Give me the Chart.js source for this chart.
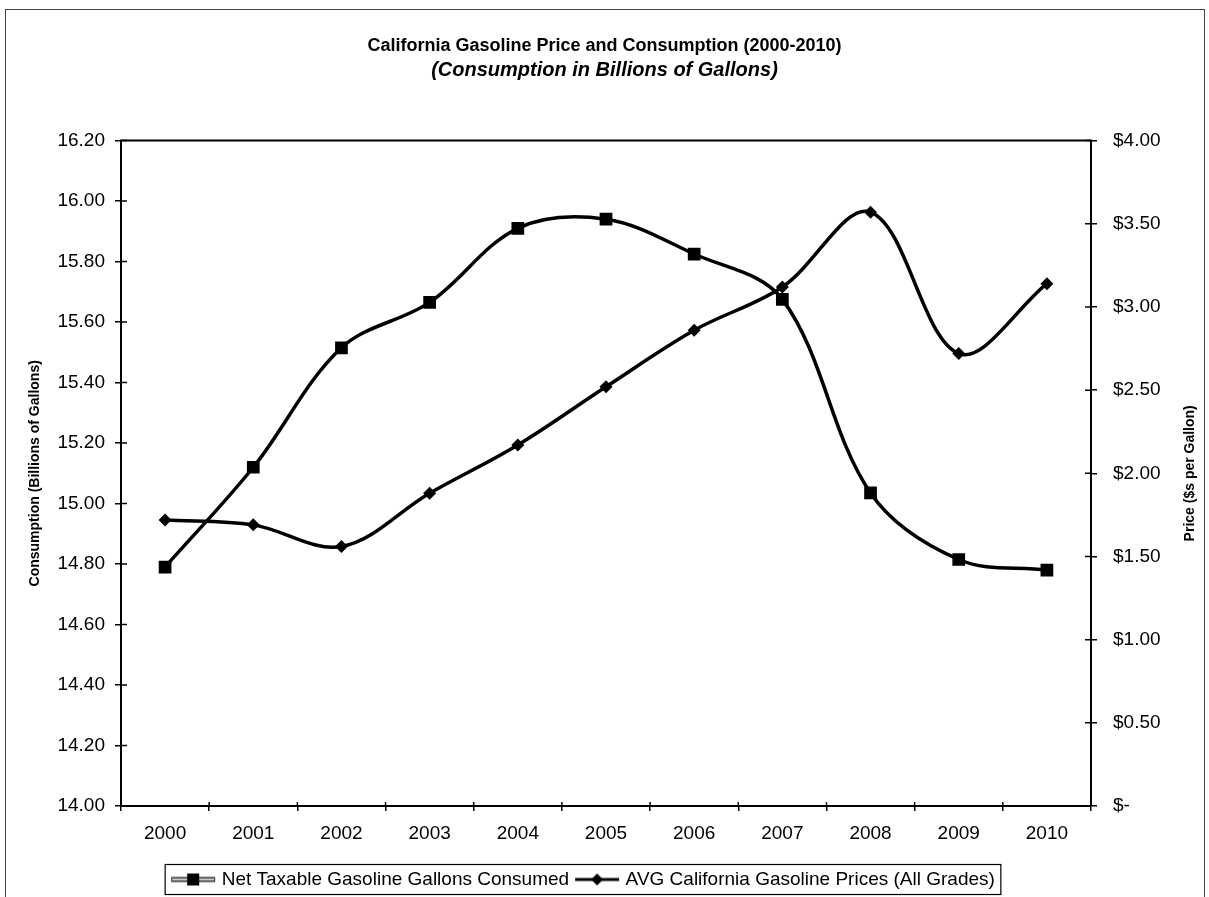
<!DOCTYPE html>
<html>
<head>
<meta charset="utf-8">
<title>California Gasoline Price and Consumption (2000-2010)</title>
<script src="https://cdn.jsdelivr.net/npm/chart.js@4.4.1/dist/chart.umd.min.js"></script>
<style>
  html, body { margin: 0; padding: 0; background: #fff; }
  #wrap { position: relative; width: 1209px; height: 897px; overflow: hidden; }
  #frame { position: absolute; left: 5px; top: 9px; width: 1198px; height: 900px; border: 1px solid #444; border-bottom: none; }
  #wrap canvas { position: absolute; left: 0; top: 0; }
</style>
</head>
<body>
<div id="wrap">
  <div id="frame"></div>
  <canvas id="gasChart" width="1209" height="897"></canvas>
</div>
<script>
const FONT = "'Liberation Sans', Arial, sans-serif";

const years = ['2000', '2001', '2002', '2003', '2004', '2005', '2006', '2007', '2008', '2009', '2010'];
// billions of gallons
const consumption = [14.79, 15.12, 15.515, 15.665, 15.91, 15.94, 15.825, 15.675, 15.035, 14.815, 14.78];
// $ per gallon, all grades
const price = [1.72, 1.69, 1.56, 1.88, 2.17, 2.52, 2.86, 3.12, 3.57, 2.72, 3.14];

const consumptionAxis = { min: 14, max: 16.2, step: 0.2 };
const priceAxis = { min: 0, max: 4, step: 0.5 };

const seriesNames = ['Net Taxable Gasoline Gallons Consumed', 'AVG California Gasoline Prices (All Grades)'];

Chart.defaults.color = '#000';
Chart.defaults.font.family = FONT;

// little line + marker pictures for the legend
function legendSymbol(kind) {
    const c = document.createElement('canvas');
    c.width = 46; c.height = 16;
    const g = c.getContext('2d');
    if (kind === 'square') {
        g.strokeStyle = '#333'; g.lineWidth = 5;
        g.beginPath(); g.moveTo(1, 8); g.lineTo(45, 8); g.stroke();
        g.strokeStyle = '#fff'; g.lineWidth = 1.5;
        g.beginPath(); g.moveTo(2, 8); g.lineTo(44, 8); g.stroke();
        g.fillStyle = '#000';
        g.fillRect(17, 2, 12, 12);
    } else {
        g.strokeStyle = '#000'; g.lineWidth = 3;
        g.beginPath(); g.moveTo(1, 8); g.lineTo(45, 8); g.stroke();
        g.fillStyle = '#000';
        g.beginPath(); g.moveTo(23, 2); g.lineTo(29, 8); g.lineTo(23, 14); g.lineTo(17, 8); g.closePath(); g.fill();
    }
    return c;
}
const legendIcons = [legendSymbol('square'), legendSymbol('diamond')];

const extras = {
    id: 'extras',
    afterLayout(chart) {
        // legend sits a little left of centre
        chart.legend.left -= 20;
        chart.legend.right -= 20;
    },
    afterDraw(chart) {
        const { ctx, chartArea: a, scales } = chart;
        ctx.save();
        ctx.strokeStyle = '#000';
        ctx.lineWidth = 2;
        ctx.beginPath();
        ctx.moveTo(a.left - 1, a.top);
        ctx.lineTo(a.right + 1, a.top);
        ctx.stroke();

        // tick marks on the inside of the axes
        ctx.lineWidth = 1.5;
        ctx.beginPath();
        scales.y.ticks.forEach((t, i) => {
            const y = scales.y.getPixelForTick(i);
            ctx.moveTo(a.left, y); ctx.lineTo(a.left + 6, y);
        });
        scales.y1.ticks.forEach((t, i) => {
            const y = scales.y1.getPixelForTick(i);
            ctx.moveTo(a.right - 6, y); ctx.lineTo(a.right, y);
        });
        for (let i = 0; i <= years.length; i++) {
            const x = scales.x.getPixelForValue(i - 0.5);
            ctx.moveTo(x, a.bottom - 4); ctx.lineTo(x, a.bottom);
        }
        ctx.stroke();

        // right axis title, reading upwards
        ctx.save();
        ctx.font = 'bold 14px ' + FONT;
        ctx.fillStyle = '#000';
        ctx.textAlign = 'center';
        ctx.textBaseline = 'middle';
        ctx.translate(1190, (a.top + a.bottom) / 2);
        ctx.rotate(-Math.PI / 2);
        ctx.fillText('Price ($s per Gallon)', 0, 0);
        ctx.restore();

        // box round the legend
        const hb = chart.legend.legendHitBoxes;
        if (hb && hb.length) {
            const first = hb[0], last = hb[hb.length - 1];
            const cy = first.top + first.height / 2;
            ctx.lineWidth = 1.2;
            ctx.strokeRect(first.left - 9, cy - 15, last.left + last.width + 6 - (first.left - 9), 30);
        }
        ctx.restore();
    }
};

const chart = new Chart(document.getElementById('gasChart'), {
    type: 'line',
    data: {
        labels: years,
        datasets: [
            {
                label: seriesNames[0],
                data: consumption,
                yAxisID: 'y',
                borderColor: '#000',
                backgroundColor: '#000',
                borderWidth: 3.5,
                tension: 0.35,
                pointStyle: 'rect',
                pointRadius: 9,
                pointBorderWidth: 0
            },
            {
                label: seriesNames[1],
                data: price,
                yAxisID: 'y1',
                borderColor: '#000',
                backgroundColor: '#000',
                borderWidth: 3.5,
                tension: 0.35,
                pointStyle: 'rectRot',
                pointRadius: 6.5,
                pointBorderWidth: 0
            }
        ]
    },
    options: {
        responsive: false,
        animation: false,
        devicePixelRatio: 1,
        layout: { padding: 0 },
        plugins: {
            title: {
                display: true,
                text: 'California Gasoline Price and Consumption (2000-2010)',
                font: { size: 18, weight: 'bold' },
                padding: { top: 35, bottom: 0 }
            },
            subtitle: {
                display: true,
                text: '(Consumption in Billions of Gallons)',
                color: '#000',
                font: { size: 20, weight: 'bold', style: 'italic' },
                padding: { top: 2, bottom: 58 }
            },
            legend: {
                position: 'bottom',
                maxHeight: 36,
                labels: {
                    usePointStyle: true,
                    pointStyleWidth: 38,
                    padding: 9,
                    font: { size: 19 },
                    generateLabels(chart) {
                        return chart.data.datasets.map((ds, i) => ({
                            text: ds.label,
                            pointStyle: legendIcons[i],
                            fillStyle: '#000',
                            strokeStyle: '#000',
                            lineWidth: 0,
                            datasetIndex: i
                        }));
                    }
                }
            },
            tooltip: { enabled: false }
        },
        scales: {
            x: {
                offset: true,
                grid: { display: true, offset: true, drawOnChartArea: false, tickLength: 5, color: '#000', lineWidth: 1.5 },
                border: { display: true, color: '#000', width: 2 },
                ticks: { font: { size: 19 }, padding: 11, maxRotation: 0 },
                afterFit(s) { s.height = 55; }
            },
            y: {
                position: 'left',
                min: consumptionAxis.min,
                max: consumptionAxis.max,
                grid: { drawOnChartArea: false, tickLength: 6, color: '#000', lineWidth: 1.5 },
                border: { display: true, color: '#000', width: 2 },
                ticks: {
                    stepSize: consumptionAxis.step,
                    font: { size: 19 },
                    padding: 10,
                    callback: v => v.toFixed(2)
                },
                title: {
                    display: true,
                    text: 'Consumption (Billions of Gallons)',
                    font: { size: 14, weight: 'bold' },
                    padding: { top: 27, bottom: 0 }
                },
                afterFit(s) { s.width = 121; }
            },
            y1: {
                position: 'right',
                min: priceAxis.min,
                max: priceAxis.max,
                grid: { drawOnChartArea: false, tickLength: 6, color: '#000', lineWidth: 1.5 },
                border: { display: true, color: '#000', width: 2 },
                ticks: {
                    stepSize: priceAxis.step,
                    font: { size: 19 },
                    padding: 16,
                    callback: v => v === 0 ? '$-' : '$' + v.toFixed(2)
                },
                afterFit(s) { s.width = 118; }
            }
        }
    },
    plugins: [extras]
});
</script>
</body>
</html>
